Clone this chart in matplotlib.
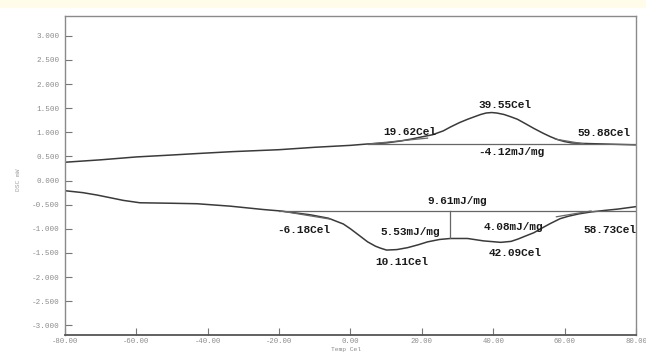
import matplotlib
matplotlib.use("Agg")
import matplotlib.pyplot as plt
from matplotlib.patches import Rectangle

# Heating trace (upper curve): temperature (Cel) and DSC signal (mW)
heat_temp = [-80, -70, -60, -50, -43, -33, -20, -10, 0, 5, 10, 14, 17, 19.62, 23, 26,
             28, 30.5, 32.8, 35, 36.5, 38, 39.55, 41, 43, 45, 46.8, 49, 51.4, 54,
             56, 58, 59.88, 62, 65, 70, 80]
heat_dsc = [0.38, 0.43, 0.49, 0.53, 0.56, 0.60, 0.64, 0.69, 0.73, 0.76, 0.78, 0.82, 0.86, 0.90,
            0.95, 1.03, 1.11, 1.20, 1.27, 1.33, 1.37, 1.40, 1.41, 1.40, 1.37, 1.32, 1.27, 1.18,
            1.08, 0.98, 0.91, 0.85, 0.81, 0.78, 0.77, 0.76, 0.74]

# Cooling trace (lower curve)
cool_temp = [-80, -75, -71, -67, -63.7, -59, -50, -43, -33.7, -24.4, -19.6, -11.2, -6.18, -2,
             0, 2.5, 4.8, 7, 8.4, 10.11, 13, 16, 19, 21.6, 25, 28, 32.8, 37.3, 42.09, 45,
             47, 49, 51.4, 54, 56, 58.73, 61, 64, 67.4, 71, 75, 80]
cool_dsc = [-0.21, -0.25, -0.30, -0.36, -0.41, -0.46, -0.47, -0.48, -0.53, -0.60, -0.63, -0.71,
            -0.78, -0.90, -1.00, -1.14, -1.27, -1.36, -1.40, -1.44, -1.43, -1.39, -1.33, -1.27,
            -1.22, -1.20, -1.20, -1.25, -1.28, -1.26, -1.21, -1.15, -1.08, -0.97, -0.89, -0.79,
            -0.74, -0.69, -0.65, -0.62, -0.59, -0.54]

# Integration baselines (start, end, level) and tangents
heat_base = (4.8, 80, 0.756)
cool_base = (-20, 80, -0.63)
tangents = [((4.8, 21.6), (0.756, 0.88)),
            ((57.4, 65.4), (0.86, 0.76)),
            ((-19.6, -5.6), (-0.63, -0.80)),
            ((57.7, 67.4), (-0.75, -0.63))]
split_temp = 28.0
split_dsc = -1.20

# Analysis annotations
labels = ["39.55Cel", "19.62Cel", "59.88Cel", "-4.12mJ/mg", "9.61mJ/mg",
          "-6.18Cel", "5.53mJ/mg", "4.08mJ/mg", "58.73Cel", "10.11Cel", "42.09Cel"]
label_pos = [(35.9, 1.56), (9.3, 1.00), (63.7, 0.98), (35.9, 0.59), (21.6, -0.42),
             (-20.5, -1.02), (8.4, -1.07), (37.3, -0.96), (65.4, -1.02), (7.0, -1.69),
             (38.7, -1.50)]

x_ticks = [-80, -60, -40, -20, 0, 20, 40, 60, 80]
y_ticks = [3.0, 2.5, 2.0, 1.5, 1.0, 0.5, 0.0, -0.5, -1.0, -1.5, -2.0, -2.5, -3.0]

fig = plt.figure(figsize=(6.46, 3.53), dpi=100)
fig.patch.set_facecolor("white")
fig.patches.append(Rectangle((0, 0.978), 1, 0.022, transform=fig.transFigure,
                             facecolor="#FFFDEA", edgecolor="none", zorder=0))

ax = fig.add_axes([0.1006, 0.051, 0.8839, 0.9036])
ax.set_xlim(-80, 80)
ax.set_ylim(-3.20, 3.41)

curve_kw = dict(color="#3a3a3a", lw=1.1, solid_capstyle="round")
ax.plot(heat_temp, heat_dsc, **curve_kw)
ax.plot(cool_temp, cool_dsc, **curve_kw)

line_kw = dict(color="#666666", lw=0.9)
ax.plot([heat_base[0], heat_base[1]], [heat_base[2]] * 2, **line_kw)
ax.plot([cool_base[0], cool_base[1]], [cool_base[2]] * 2, **line_kw)
for xs, ys in tangents:
    ax.plot(xs, ys, **line_kw)
ax.plot([split_temp, split_temp], [cool_base[2], split_dsc], **line_kw)

for txt, (x, y) in zip(labels, label_pos):
    ax.text(x, y, txt, ha="left", va="center", fontsize=8,
            family="Liberation Mono", fontweight="bold", color="#1a1a1a", clip_on=True)

ax.set_xticks(x_ticks)
ax.set_xticklabels([f"{v:.2f}" for v in x_ticks])
ax.set_yticks(y_ticks)
ax.set_yticklabels([f"{v:.3f}" for v in y_ticks])
ax.tick_params(direction="in", length=5, width=0.8, color="#777777",
               labelsize=5.5, labelcolor="#8c8c8c", pad=4)
ax.tick_params(axis="x", pad=2.5, labelsize=5.2)
for lab in ax.get_xticklabels() + ax.get_yticklabels():
    lab.set_family("Liberation Mono")

for side, sp in ax.spines.items():
    sp.set_color("#8a8a8a")
    sp.set_linewidth(1.0)
ax.spines["bottom"].set_color("#555555")
ax.spines["bottom"].set_linewidth(1.3)

fig.text(0.028, 0.49, "DSC mW", rotation=90, ha="center", va="center",
         fontsize=4.5, color="#a0a0a0", family="Liberation Mono")
fig.text(0.512, 0.004, "Temp Cel", ha="left", va="bottom",
         fontsize=4.5, color="#8c8c8c", family="Liberation Mono")

fig.savefig("out.png", dpi=100)
